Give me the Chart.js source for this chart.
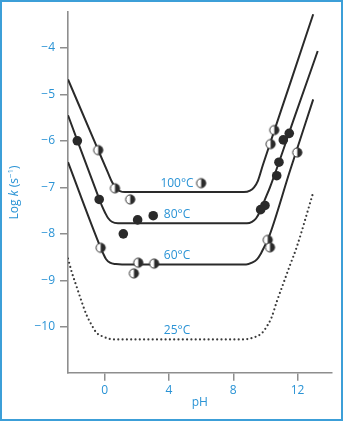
<!DOCTYPE html>
<html>
<head>
<meta charset="utf-8">
<script src="https://cdn.jsdelivr.net/npm/chart.js@4.4.1/dist/chart.umd.min.js"></script>
<style>
  html, body { margin: 0; padding: 0; background: #fff; }
  #wrap { width: 343px; height: 421px; position: relative; }
</style>
</head>
<body>
<div id="wrap"><canvas id="c" width="343" height="421"></canvas></div>
<script>
// log k vs pH at four temperatures
const xTicks = [0, 4, 8, 12];
const yTicks = [-10, -9, -8, -7, -6, -5, -4];
const tempLabels = ["100°C", "80°C", "60°C", "25°C"];

// fitted curves
const curvePH100 = [-2.28, -0.40, 0.21, 0.45, 0.70, 0.95, 1.26, 8.66, 9.04, 9.29, 9.53, 9.84, 11.52, 12.97];
const curveK100  = [-4.68, -6.20, -6.69, -6.88, -7.02, -7.08, -7.10, -7.10, -7.07, -7.00, -6.86, -6.52, -4.78, -3.28];
const curvePH80 = [-2.28, -0.34, -0.17, 0.02, 0.21, 0.45, 0.83, 8.85, 9.16, 9.41, 9.66, 9.97, 10.28, 11.83, 13.25];
const curveK80  = [-5.45, -7.25, -7.40, -7.54, -7.66, -7.74, -7.77, -7.77, -7.74, -7.67, -7.52, -7.26, -7.00, -5.47, -4.07];
const curvePH60 = [-2.28, -0.25, -0.11, 0.08, 0.33, 0.70, 1.08, 8.80, 9.16, 9.47, 9.72, 9.94, 10.16, 11.52, 12.97];
const curveK60  = [-6.46, -8.30, -8.41, -8.54, -8.62, -8.65, -8.66, -8.66, -8.62, -8.55, -8.42, -8.27, -8.12, -6.65, -5.11];
const curvePH25 = [-2.28, -2.05, -1.74, -1.43, -1.12, -0.81, -0.50, -0.09, 0.33, 0.83, 8.62, 9.24, 9.76, 10.07, 10.39, 10.70, 11.11, 11.52, 11.94, 12.97];
const curveK25  = [-8.53, -8.82, -9.14, -9.46, -9.75, -9.96, -10.13, -10.21, -10.26, -10.27, -10.27, -10.23, -10.14, -10.00, -9.79, -9.46, -9.07, -8.68, -8.29, -7.11];

// measured points
const obsPH100 = [-0.40, 0.64, 1.59, 10.32, 10.55];
const obsK100  = [-6.20, -7.02, -7.26, -6.07, -5.77];
const obsPH80 = [-1.70, -0.34, 1.16, 2.05, 3.02, 9.70, 9.97, 10.70, 10.84, 11.11, 11.48];
const obsK80  = [-6.00, -7.26, -8.00, -7.70, -7.61, -7.48, -7.39, -6.75, -6.46, -5.98, -5.84];
const obsPH60 = [-0.25, 1.82, 2.09, 3.08, 10.14, 10.28, 11.98];
const obsK60  = [-8.30, -8.85, -8.62, -8.64, -8.13, -8.29, -6.25];
// key symbol next to the 100°C label
const keyPH = [6.0];
const keyK = [-6.91];

const BLUE = "#2a93d5";
const AXIS = "#8e8e8e";
const INK = "#2a2a2a";
const FONT = "'Open Sans', 'DejaVu Sans', sans-serif";

const zip = (xs, ys) => xs.map((x, i) => ({ x, y: ys[i] }));
const fmt = (v) => (v < 0 ? "\u2212" + Math.abs(v) : String(v));

// half-filled circle (left white, right black)
function halfDot(r) {
  const s = Math.ceil(r * 2 + 3);
  const c = document.createElement("canvas");
  c.width = s; c.height = s;
  const g = c.getContext("2d");
  const m = s / 2;
  g.beginPath(); g.arc(m, m, r, 0, Math.PI * 2); g.fillStyle = "#fff"; g.fill();
  g.beginPath(); g.arc(m, m, r, -Math.PI / 2, Math.PI / 2); g.closePath(); g.fillStyle = INK; g.fill();
  g.beginPath(); g.arc(m, m, r, 0, Math.PI * 2); g.lineWidth = 1; g.strokeStyle = INK; g.stroke();
  return c;
}
const half = halfDot(4.6);

function curve(xs, ys, dotted) {
  return {
    data: zip(xs, ys), showLine: true, pointRadius: 0, borderColor: dotted ? "#3a3a3a" : INK,
    borderWidth: dotted ? 2.2 : 2, borderDash: dotted ? [0, 4.3] : [], borderCapStyle: dotted ? "round" : "butt",
    cubicInterpolationMode: "monotone", order: 2,
  };
}
function marks(xs, ys, style) {
  return {
    data: zip(xs, ys), showLine: false, pointStyle: style, pointRadius: 4.8,
    backgroundColor: INK, borderWidth: 0, order: 0,
  };
}

// temperature labels, placed at pH 4.5
const labelPlugin = {
  id: "labels",
  afterDatasetsDraw(chart) {
    const { ctx, scales: { x, y } } = chart;
    const at = [-6.91, -7.585, -8.463, -10.085];
    ctx.save();
    ctx.fillStyle = BLUE;
    ctx.font = "12px " + FONT;
    ctx.textAlign = "center";
    ctx.textBaseline = "middle";
    tempLabels.forEach((t, i) => ctx.fillText(t, x.getPixelForValue(4.5), y.getPixelForValue(at[i])));
    ctx.restore();
  },
};

// y title with italic k and superscript, plus the outer frame
const framePlugin = {
  id: "frame",
  afterDraw(chart) {
    const { ctx, chartArea } = chart;
    const parts = [
      ["Log ", "12px " + FONT, 0],
      ["k", "italic 12px " + FONT, 0],
      [" (s", "12px " + FONT, 0],
      ["\u22121", "8px " + FONT, -4],
      [")", "12px " + FONT, 0],
    ];
    ctx.save();
    let w = 0;
    parts.forEach((p) => { ctx.font = p[1]; w += ctx.measureText(p[0]).width; });
    ctx.translate(15, (chartArea.top + chartArea.bottom) / 2);
    ctx.rotate(-Math.PI / 2);
    ctx.fillStyle = BLUE;
    ctx.textBaseline = "middle";
    let cx = -w / 2;
    parts.forEach((p) => {
      ctx.font = p[1];
      ctx.fillText(p[0], cx, p[2]);
      cx += ctx.measureText(p[0]).width;
    });
    ctx.restore();

    ctx.save();
    ctx.strokeStyle = "#3c9fd8";
    ctx.lineWidth = 2;
    ctx.strokeRect(1, 1, chart.width - 2, chart.height - 2);
    ctx.restore();
  },
};

new Chart(document.getElementById("c"), {
  type: "scatter",
  data: {
    datasets: [
      marks(obsPH100, obsK100, half),
      marks(obsPH80, obsK80, "circle"),
      marks(obsPH60, obsK60, half),
      marks(keyPH, keyK, half),
      curve(curvePH100, curveK100),
      curve(curvePH80, curveK80),
      curve(curvePH60, curveK60),
      curve(curvePH25, curveK25, true),
    ],
  },
  options: {
    responsive: false,
    animation: false,
    devicePixelRatio: 1,
    layout: { padding: { left: 0, top: 11, right: 11.3, bottom: 0 } },
    plugins: { legend: { display: false }, tooltip: { enabled: false } },
    scales: {
      x: {
        type: "linear", position: "bottom", min: -2.28, max: 14.12,
        afterBuildTicks: (s) => { s.ticks = xTicks.map((v) => ({ value: v })); },
        afterFit: (s) => { s.height = 48.3; },
        grid: { drawOnChartArea: false, drawTicks: true, tickLength: 8, color: AXIS, lineWidth: 1.5 },
        border: { display: true, color: AXIS, width: 1.6 },
        ticks: { color: BLUE, font: { family: FONT, size: 12 }, padding: 3, maxRotation: 0, callback: fmt },
        title: { display: true, text: "pH", color: BLUE, font: { family: FONT, size: 12 }, padding: { top: 0, bottom: 11 } },
      },
      y: {
        type: "linear", min: -10.985, max: -3.235,
        afterBuildTicks: (s) => { s.ticks = yTicks.map((v) => ({ value: v })); },
        afterFit: (s) => { s.width = 68; },
        grid: { drawOnChartArea: false, drawTicks: true, tickLength: 8, color: AXIS, lineWidth: 1.5 },
        border: { display: true, color: AXIS, width: 1.6 },
        ticks: { color: BLUE, font: { family: FONT, size: 12 }, padding: 5, callback: fmt },
      },
    },
  },
  plugins: [labelPlugin, framePlugin],
});
</script>
</body>
</html>
